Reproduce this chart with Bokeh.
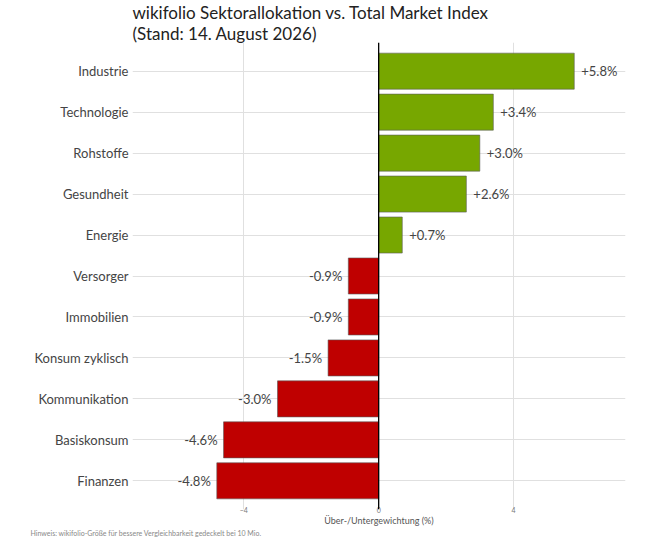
from bokeh.plotting import figure
from bokeh.models import FactorRange, Range1d, FixedTicker, Span, Title, ColumnDataSource
from bokeh.core.properties import value
from bokeh.embed import file_html
from bokeh.resources import INLINE

# Sektoren von oben nach unten
sectors = ["Industrie", "Technologie", "Rohstoffe", "Gesundheit", "Energie",
           "Versorger", "Immobilien", "Konsum zyklisch", "Kommunikation",
           "Basiskonsum", "Finanzen"]
# Über-/Untergewichtung in Prozentpunkten
diff = [5.8, 3.4, 3.0, 2.6, 0.7, -0.9, -0.9, -1.5, -3.0, -4.6, -4.8]
x_ticks = [-4, 0, 4]

GREEN = "#77a700"
RED = "#bf0000"
FONT = "Lato"

colors = [GREEN if v > 0 else RED for v in diff]
labels = [f"{v:+.1f}%" for v in diff]

src = ColumnDataSource(dict(sector=sectors, diff=diff, color=colors, label=labels))
pos = ColumnDataSource(dict(sector=[s for s, v in zip(sectors, diff) if v > 0],
                            diff=[v for v in diff if v > 0],
                            label=[l for l, v in zip(labels, diff) if v > 0]))
neg = ColumnDataSource(dict(sector=[s for s, v in zip(sectors, diff) if v <= 0],
                            diff=[v for v in diff if v <= 0],
                            label=[l for l, v in zip(labels, diff) if v <= 0]))

p = figure(title=None,
           y_range=FactorRange(factors=sectors[::-1], range_padding=0.2,
                               range_padding_units="absolute"),
           x_range=Range1d(-7.3, 7.32),
           width=656, height=549,
           min_border_left=132, min_border_right=31, min_border_top=40,
           min_border_bottom=40,
           output_backend="svg", toolbar_location=None)

# zweizeiliger Titel: zuerst die untere Zeile, dann die obere
for line in ["(Stand: 14. August 2026)",
             "wikifolio Sektorallokation vs. Total Market Index"]:
    p.add_layout(Title(text=line, align="left", standoff=-2, text_font=FONT,
                       text_font_size="17px", text_font_style="normal",
                       text_color="#222222"), "above")

p.hbar(y="sector", right="diff", left=0, height=0.88, source=src,
       fill_color="color", line_color="#5a5a5a", line_width=0.6)

p.text(x="diff", y="sector", text="label", source=pos, x_offset=7,
       text_align="left", text_baseline="middle", text_font_size="13px",
       text_color="#444444", text_font=value(FONT))
p.text(x="diff", y="sector", text="label", source=neg, x_offset=-6,
       text_align="right", text_baseline="middle", text_font_size="13px",
       text_color="#444444", text_font=value(FONT))

p.add_layout(Span(location=0, dimension="height", line_color="black", line_width=1.3))

p.outline_line_color = None
p.xgrid.ticker = FixedTicker(ticks=x_ticks)
p.xaxis.ticker = FixedTicker(ticks=x_ticks)
p.xgrid.grid_line_color = "#e0e0e0"
p.ygrid.grid_line_color = "#e0e0e0"

p.xaxis.axis_line_color = None
p.xaxis.major_tick_line_color = None
p.xaxis.minor_tick_line_color = None
p.xaxis.major_tick_out = 0
p.xaxis.minor_tick_out = 0
p.xaxis.major_label_text_font_size = "7px"
p.xaxis.major_label_text_color = "#777777"
p.xaxis.major_label_text_font = FONT
p.xaxis.major_label_standoff = -3
p.xaxis.axis_label = "Über-/Untergewichtung (%)"
p.xaxis.axis_label_text_font_size = "9px"
p.xaxis.axis_label_text_font_style = "normal"
p.xaxis.axis_label_text_color = "#555555"
p.xaxis.axis_label_text_font = FONT
p.xaxis.axis_label_standoff = -1

p.yaxis.axis_line_color = None
p.yaxis.major_tick_line_color = None
p.yaxis.minor_tick_line_color = None
p.yaxis.major_tick_out = 0
p.yaxis.minor_tick_out = 0
p.yaxis.major_label_text_font_size = "13px"
p.yaxis.major_label_text_color = "#444444"
p.yaxis.major_label_text_font = FONT
p.yaxis.major_label_standoff = 4

note = Title(text="Hinweis: wikifolio-Größe für bessere Vergleichbarkeit gedeckelt bei 10 Mio.",
             align="left", offset=-102, standoff=-3, text_font_size="7px",
             text_font_style="normal", text_color="#888888", text_font=FONT)
p.add_layout(note, "below")

open("out.html", "w").write(file_html(p, INLINE))
